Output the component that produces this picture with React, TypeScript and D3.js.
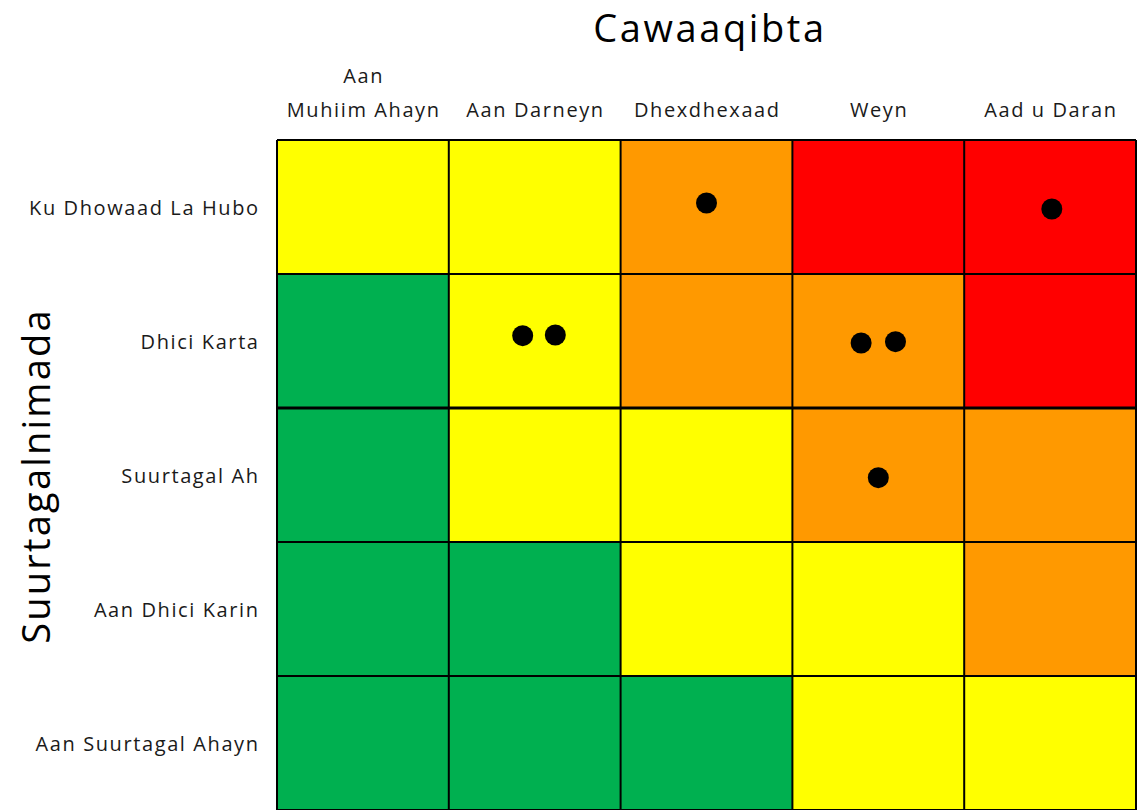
import React from "react";
import * as d3 from "d3";

const impactLabels = ["Aan\nMuhiim Ahayn", "Aan Darneyn", "Dhexdhexaad", "Weyn", "Aad u Daran"];
const likelihoodLabels = ["Ku Dhowaad La Hubo", "Dhici Karta", "Suurtagal Ah", "Aan Dhici Karin", "Aan Suurtagal Ahayn"];
// risk level per cell, rows top->bottom, cols left->right (0 green, 1 yellow, 2 orange, 3 red)
const levelRows = [
  [1, 1, 2, 3, 3],
  [0, 1, 2, 2, 3],
  [0, 1, 1, 2, 2],
  [0, 0, 1, 1, 2],
  [0, 0, 0, 1, 1],
];
const levelColors = ["#00B050", "#FFFF00", "#FF9900", "#FF0000"];
// risk points: impact position (column units) and likelihood position (row units from top)
const pointImpact = [2.5, 4.51, 1.43, 1.62, 3.4, 3.6, 3.5];
const pointLikelihood = [0.47, 0.515, 1.46, 1.455, 1.515, 1.505, 2.52];

const titleX = "Cawaaqibta";
const titleY = "Suurtagalnimada";

export default function App() {
  const W = 1137, H = 810;
  const left = 277, right = 1136, top = 140, bottom = 810;
  const x = d3.scaleBand<number>().domain(d3.range(5)).range([left, right]).paddingInner(0);
  const y = d3.scaleBand<number>().domain(d3.range(5)).range([top, top + 5 * 134]).paddingInner(0);
  const xl = d3.scaleLinear().domain([0, 5]).range([left, right]);
  const yl = d3.scaleLinear().domain([0, 5]).range([top, top + 5 * 134]);
  const font = "'Open Sans', sans-serif";
  const ls = 1.6;
  const cells = levelRows.flatMap((row, r) => row.map((lv, c) => ({ r, c, lv })));
  return (
    <div style={{ position: "fixed", left: 0, top: 0 }}>
      <svg width={W} height={H} style={{ display: "block", background: "#fff" }}>
        {cells.map((d) => (
          <rect key={`${d.r}-${d.c}`} x={x(d.c)} y={y(d.r)} width={x.bandwidth()} height={y.bandwidth()}
            fill={levelColors[d.lv]} />
        ))}
        {d3.range(6).map((i) => (
          <line key={`v${i}`} x1={xl(i)} x2={xl(i)} y1={top} y2={bottom + 10} stroke="#000" strokeWidth={2} />
        ))}
        {d3.range(6).map((i) => (
          <line key={`h${i}`} x1={left} x2={right} y1={yl(i)} y2={yl(i)} stroke="#000" strokeWidth={i === 2 ? 3 : 2} />
        ))}
        {pointImpact.map((v, i) => (
          <circle key={`p${i}`} cx={xl(v)} cy={yl(pointLikelihood[i])} r={10.5} fill="#000" />
        ))}
        {impactLabels.map((lab, i) => {
          const lines = lab.split("\n");
          const cx = (x(i) as number) + x.bandwidth() / 2 + ls / 2;
          return (
            <text key={`c${i}`} x={cx} y={117} textAnchor="middle"
              fontFamily={font} fontSize={20} letterSpacing={ls} fill="#1a1a1a">
              {lines.map((ln, j) => (
                <tspan key={j} x={cx} dy={j === 0 ? -(lines.length - 1) * 34 : 34}>{ln}</tspan>
              ))}
            </text>
          );
        })}
        {likelihoodLabels.map((lab, i) => (
          <text key={`r${i}`} x={258 + ls} y={(y(i) as number) + y.bandwidth() / 2} textAnchor="end" dominantBaseline="central"
            fontFamily={font} fontSize={20} letterSpacing={ls} fill="#1a1a1a">{lab}</text>
        ))}
        <text x={710} y={27} textAnchor="middle" dominantBaseline="central" fontFamily={font} fontSize={38}
          letterSpacing={2.6} fill="#000">{titleX}</text>
        <text transform={`translate(35,476) rotate(-90)`} textAnchor="middle" dominantBaseline="central"
          fontFamily={font} fontSize={38} letterSpacing={2.2} fill="#000">{titleY}</text>
      </svg>
    </div>
  );
}
